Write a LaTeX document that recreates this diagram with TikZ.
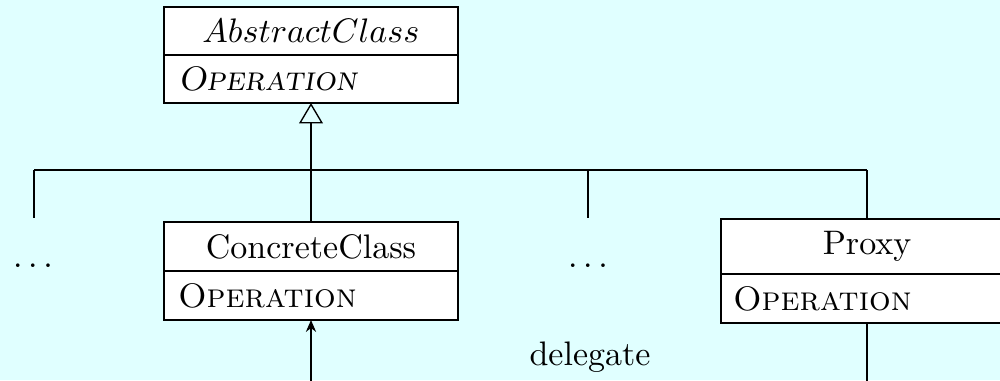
\documentclass[tikz,border=0pt]{standalone}
\usetikzlibrary{arrows.meta}
\definecolor{bgcyan}{RGB}{224,255,255}
\tikzset{
  namebox/.style={draw, fill=white, minimum width=294*0.294pt, inner sep=0pt, outer sep=0pt, align=center},
  opbox/.style={draw, fill=white, inner xsep=14*0.294pt, inner ysep=0pt, outer sep=0pt, text width=266*0.294pt, align=left, anchor=north},
  gen/.style={-{Triangle[open, length=6pt, width=7pt]}},
  deleg/.style={-{Stealth[length=3.5pt, width=3pt]}},
}
\begin{document}
\begin{tikzpicture}[x=0.294pt, y=-0.294pt, line width=0.4pt]
\clip (0,0) rectangle (1000,380);
\fill[bgcyan] (0,0) rectangle (1000,380);
% AbstractClass
\node[namebox, minimum height=48*0.294pt] (abs) at (311,31) {$AbstractClass$};
\node[opbox, minimum height=48*0.294pt] (absop) at (abs.south) {\textit{\textsc{Operation}}};
% ConcreteClass
\node[namebox, minimum height=49*0.294pt] (conc) at (311,246.5) {ConcreteClass};
\node[opbox, minimum height=49*0.294pt] (concop) at (conc.south) {\textsc{Operation}};
% Proxy
\node[namebox, minimum width=292*0.294pt, minimum height=55*0.294pt] (proxy) at (867,246.5) {Proxy};
\node[opbox, inner xsep=12*0.294pt, text width=268*0.294pt, minimum height=49*0.294pt] (proxyop) at (proxy.south) {\textsc{Operation}};
% dots
\node (dl) at (33,266) {$\ldots$};
\node (dm) at (588,266) {$\ldots$};
% inheritance tree
\coordinate (hl) at (34,170);
\coordinate (hc) at (311,170);
\coordinate (hm) at (588,170);
\coordinate (hr) at (867,170);
\coordinate (el) at (34,218);
\coordinate (em) at (588,218);
\draw (hl) -- (hr);
\draw[gen] (hc) -- (absop.south);
\draw (hl) -- (el);
\draw (hm) -- (em);
\draw (hc) -- (conc.north);
\draw (hr) -- (proxy.north);
% delegate
\coordinate (dg) at (311,420);
\draw[deleg] (proxyop.south) |- (dg) -- (concop.south);
\node (dlabel) at (590,357) {delegate};
\end{tikzpicture}
\end{document}
